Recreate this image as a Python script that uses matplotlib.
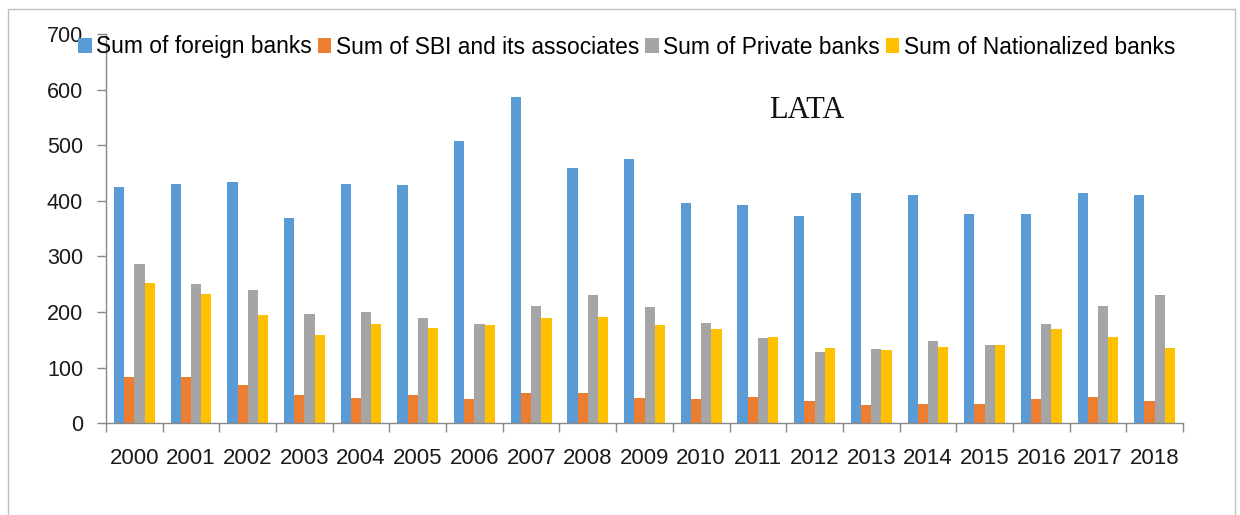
import numpy as np
import matplotlib
matplotlib.use("Agg")
import matplotlib.pyplot as plt
from matplotlib.patches import Rectangle

plt.rcParams['font.family'] = ['Liberation Sans', 'DejaVu Sans']

years = [str(y) for y in range(2000, 2019)]
foreign = [424, 430, 434, 369, 430, 428, 508, 586, 459, 476, 396, 393, 372, 415, 410, 376, 376, 415, 410]
sbi = [83, 83, 68, 50, 46, 50, 44, 55, 55, 46, 44, 48, 40, 33, 35, 35, 44, 48, 40]
private = [287, 250, 239, 196, 200, 189, 179, 211, 230, 209, 180, 153, 128, 133, 148, 141, 178, 211, 230]
national = [252, 233, 194, 159, 179, 172, 176, 189, 191, 176, 170, 155, 135, 131, 137, 141, 170, 155, 135]

series = [
    ("Sum of foreign banks", foreign, "#5B9BD5"),
    ("Sum of SBI and its associates", sbi, "#ED7D31"),
    ("Sum of Private banks", private, "#A5A5A5"),
    ("Sum of Nationalized banks", national, "#FFC000"),
]

fig = plt.figure(figsize=(12.4, 5.15), dpi=100)
ax = fig.add_axes([106/1240, 1 - 423.3/515, (1183 - 106)/1240, (423.3 - 34)/515])

x = np.arange(len(years))
w = 0.18
for k, (name, vals, col) in enumerate(series):
    ax.bar(x + (k - 1.5) * w, vals, w, color=col, label=name, zorder=2)

ax.set_xlim(-0.5, len(years) - 0.5)
ax.set_ylim(0, 700)
ax.set_yticks(range(0, 701, 100))
ax.tick_params(axis='y', length=6.5, width=1, color='#898989', pad=10, labelsize=15.5, labelcolor='#1a1a1a')

ax.set_xticks(np.arange(-0.5, len(years), 1.0))
ax.set_xticklabels([])
ax.set_xticks(x, minor=True)
ax.set_xticklabels(years, minor=True)
ax.tick_params(axis='x', which='major', length=6.5, width=1, color='#898989')
ax.tick_params(axis='x', which='minor', length=0, pad=18, labelsize=16, labelcolor='#1a1a1a')

for s in ['top', 'right']:
    ax.spines[s].set_visible(False)
for s in ['left', 'bottom']:
    ax.spines[s].set_color('#898989')
    ax.spines[s].set_linewidth(1)

fig.legend(loc='center left', bbox_to_anchor=(78/1240, 1 - 47/515), ncol=4, frameon=False,
           fontsize=16.4, handlelength=0.6, handleheight=0.6, handletextpad=0.2,
           columnspacing=0.25, borderaxespad=0, borderpad=0)

fig.text(807/1240, 1 - 110/515, "LATA", family='Liberation Serif', fontsize=22,
         ha='center', va='center', color='#111111')

fig.patches.append(Rectangle((8/1240, -0.05), (1235 - 8)/1240, 1.05 - 9/515,
                             transform=fig.transFigure, fill=False,
                             edgecolor='#bfbfbf', linewidth=1))

fig.savefig("out.png", dpi=100)
